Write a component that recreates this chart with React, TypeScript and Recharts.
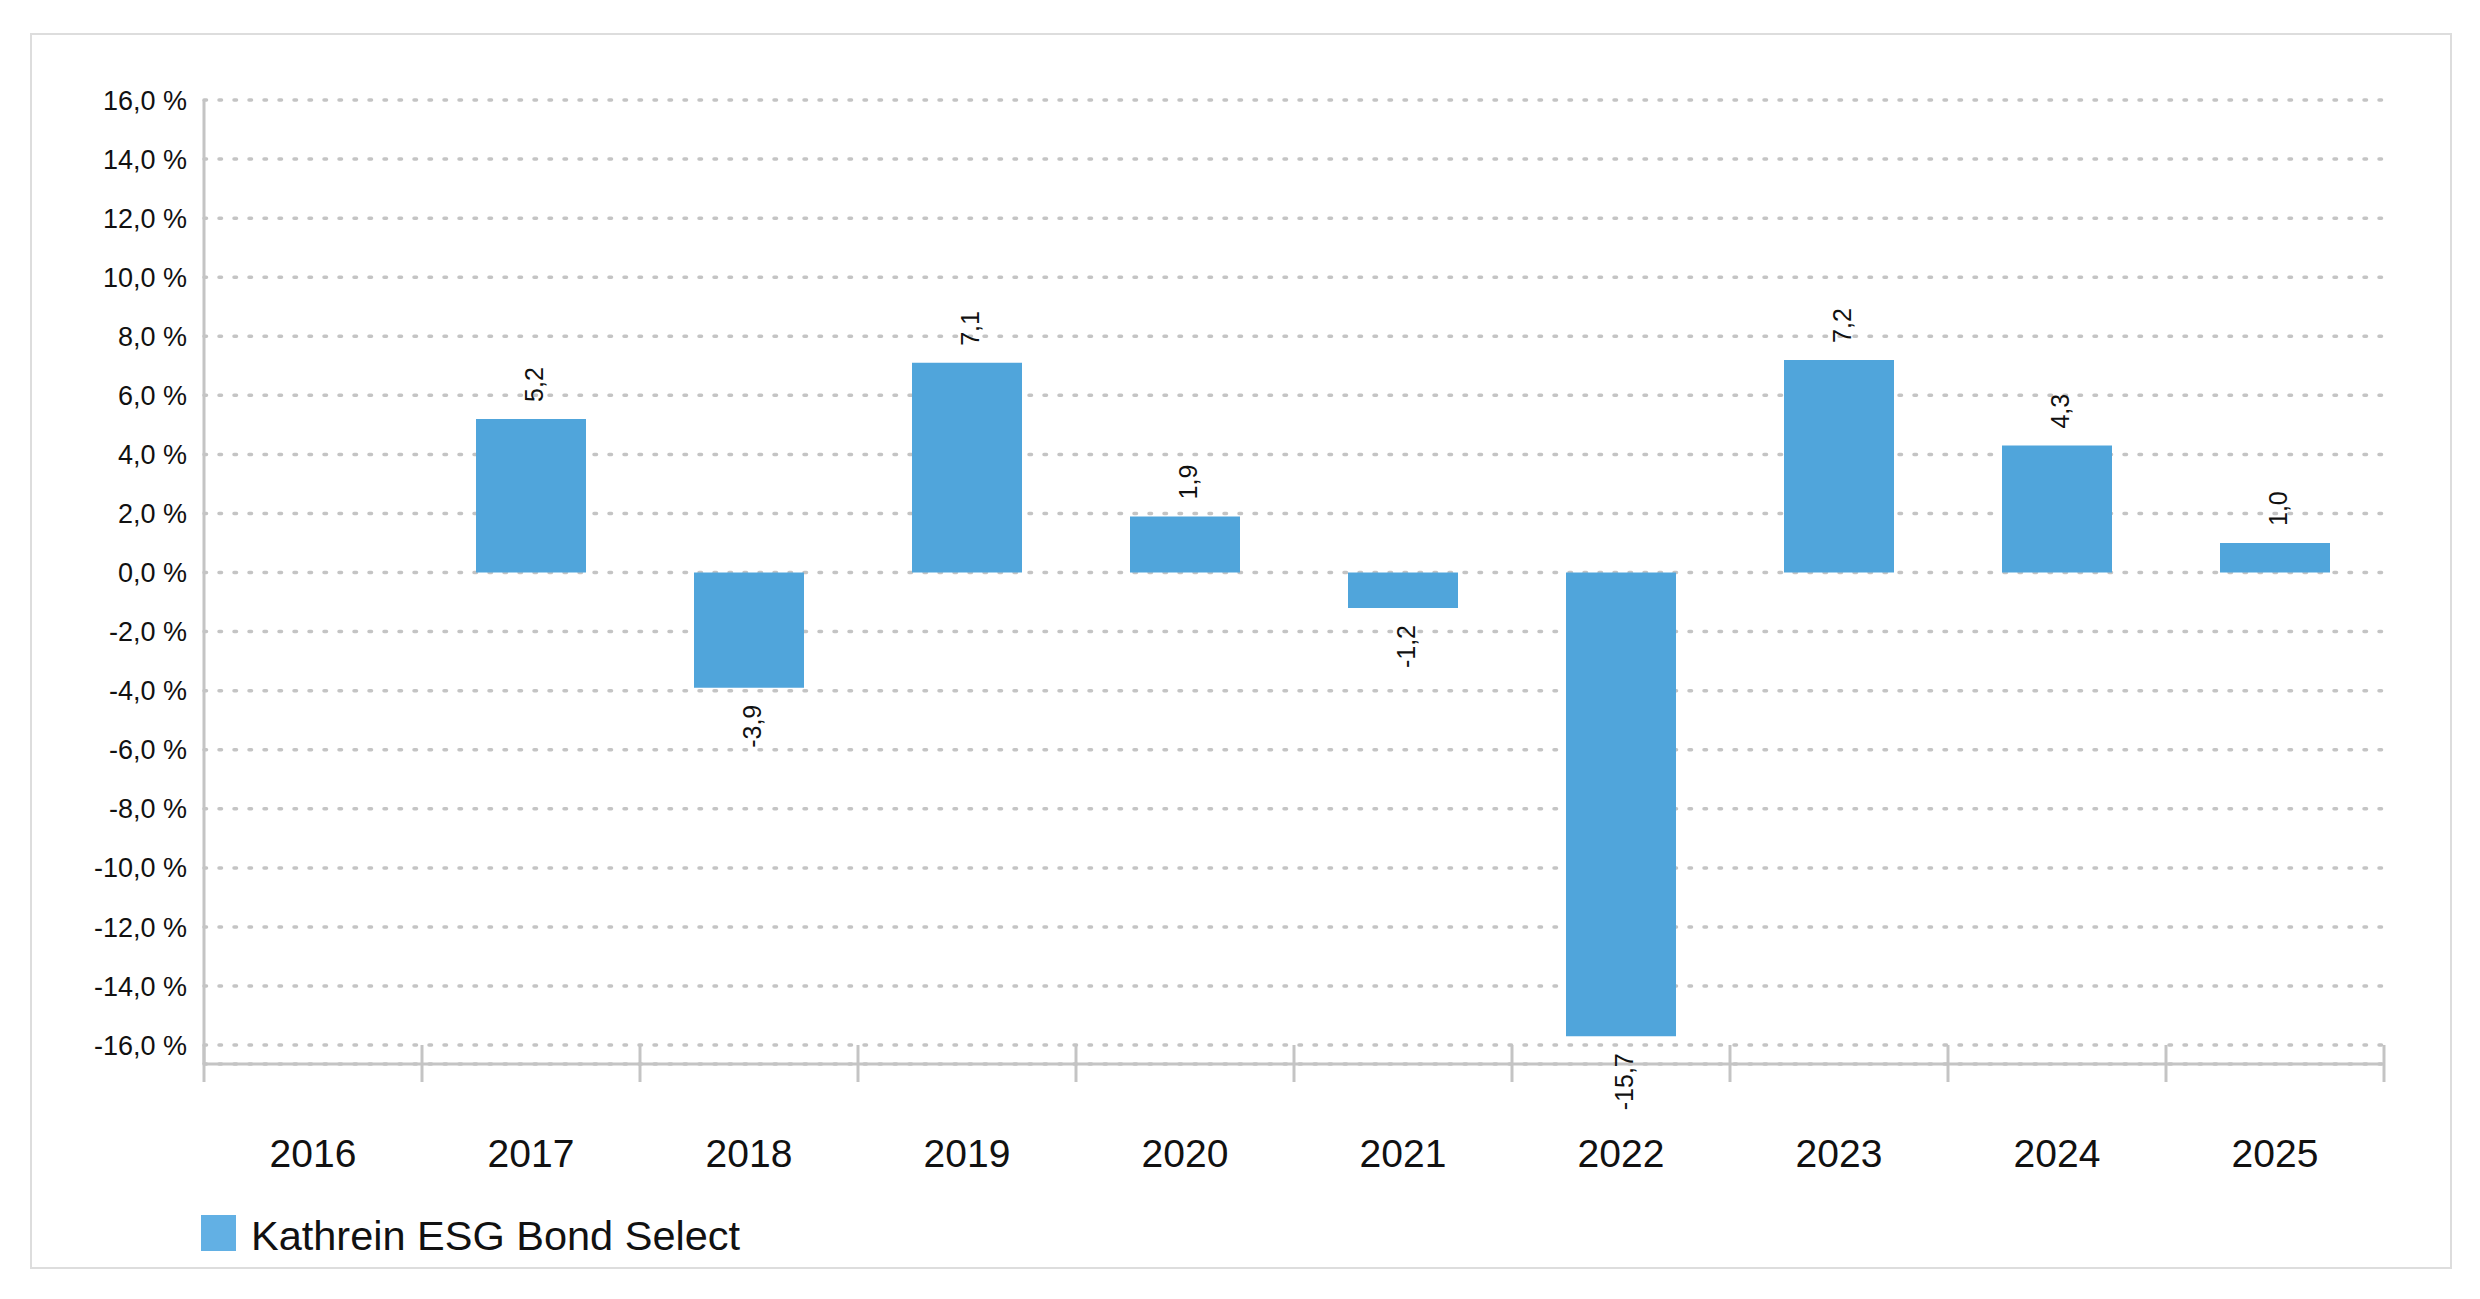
import React from "react";
import { BarChart, Bar, XAxis, YAxis, CartesianGrid, LabelList } from "recharts";

const years = ["2016", "2017", "2018", "2019", "2020", "2021", "2022", "2023", "2024", "2025"];
const returns: (number | null)[] = [null, 5.2, -3.9, 7.1, 1.9, -1.2, -15.7, 7.2, 4.3, 1.0];
const yTicks = [-16, -14, -12, -10, -8, -6, -4, -2, 0, 2, 4, 6, 8, 10, 12, 14, 16];
const seriesName = "Kathrein ESG Bond Select";

const data = years.map((year, i) => ({ year, value: returns[i] }));

const W = 2480;
const H = 1299;
const PLOT_LEFT = 204;
const PLOT_RIGHT = 2384;
const BAND = (PLOT_RIGHT - PLOT_LEFT) / years.length;
const FONT = "'Liberation Sans', Arial, Helvetica, sans-serif";
const GREY = "#c4c4c4";
const BAR = "#50a5db";

const fmtPct = (v: number) => `${v.toFixed(1).replace(".", ",")} %`;
const fmtVal = (v: number) => v.toFixed(1).replace(".", ",");

function YearTick(props: any) {
  const { x, y, payload, index } = props;
  return (
    <g>
      <line x1={x - BAND / 2} x2={x - BAND / 2} y1={y - 19} y2={y + 18} stroke={GREY} strokeWidth={3} />
      {index === years.length - 1 && (
        <line x1={x + BAND / 2} x2={x + BAND / 2} y1={y - 19} y2={y + 18} stroke={GREY} strokeWidth={3} />
      )}
      <text x={x} y={y + 103} textAnchor="middle" fontSize={39} fill="#111" fontFamily={FONT}>
        {payload.value}
      </text>
    </g>
  );
}

function ValueLabel(props: any) {
  const { x, y, width, height, value } = props;
  if (value === null || value === undefined) return null;
  const cx = x + width / 2 + 3;
  const top = Math.min(y, y + height);
  const bottom = Math.max(y, y + height);
  const pos = value >= 0;
  const ay = pos ? top - 17 : bottom + 17;
  return (
    <text
      x={cx}
      y={ay}
      transform={`rotate(-90 ${cx} ${ay})`}
      textAnchor={pos ? "start" : "end"}
      dominantBaseline="central"
      fontSize={25}
      fill="#111"
      fontFamily={FONT}
    >
      {fmtVal(value)}
    </text>
  );
}

export default function App() {
  return (
    <div style={{ position: "absolute", left: 0, top: 0, width: W, height: H, background: "#fff", fontFamily: FONT }}>
      <div
        style={{
          position: "absolute",
          left: 30,
          top: 33,
          width: 2418,
          height: 1232,
          border: "2px solid #dddddd",
        }}
      />
      <div style={{ position: "absolute", left: 0, top: 0 }}>
        <BarChart width={W} height={H} data={data} margin={{ top: 100, right: W - PLOT_RIGHT, left: 0, bottom: 0 }}>
          <CartesianGrid
            vertical={false}
            stroke={GREY}
            strokeWidth={3.5}
            strokeDasharray="2.5 12.5"
            strokeLinecap="round"
          />
          <YAxis
            type="number"
            domain={[-16.64, 16]}
            ticks={yTicks}
            allowDataOverflow
            width={PLOT_LEFT}
            tickFormatter={fmtPct}
            tickLine={false}
            tickSize={0}
            tickMargin={17}
            axisLine={{ stroke: GREY, strokeWidth: 3 }}
            tick={{ fontSize: 27, fill: "#111", fontFamily: FONT }}
          />
          <XAxis
            dataKey="year"
            interval={0}
            height={235}
            tickLine={false}
            tickSize={0}
            tickMargin={0}
            axisLine={{ stroke: GREY, strokeWidth: 3 }}
            tick={<YearTick />}
          />
          <Bar dataKey="value" name={seriesName} fill={BAR} barSize={110} isAnimationActive={false}>
            <LabelList dataKey="value" content={<ValueLabel />} />
          </Bar>
        </BarChart>
      </div>
      <div style={{ position: "absolute", left: 201, top: 1215, display: "flex", alignItems: "center" }}>
        <div style={{ width: 35, height: 36, background: "#62b0e4" }} />
        <span style={{ marginLeft: 15, fontSize: 41.5, color: "#111", lineHeight: "36px", position: "relative", top: 3 }}>
          {seriesName}
        </span>
      </div>
    </div>
  );
}
